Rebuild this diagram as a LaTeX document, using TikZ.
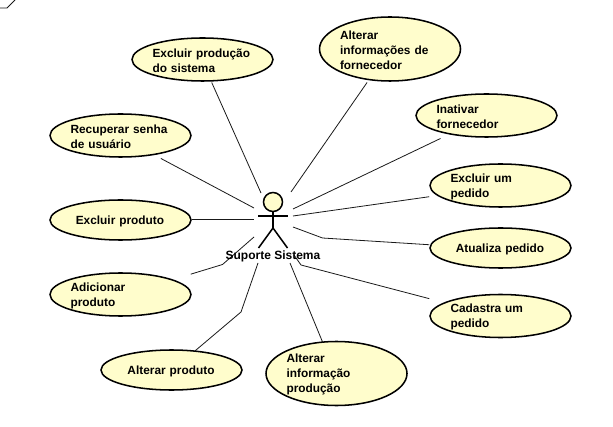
\documentclass[tikz,border=0pt]{standalone}
\usepackage{fontspec}
\setmainfont{Liberation Sans}
\usetikzlibrary{shapes.geometric}
\definecolor{ucfill}{HTML}{FFFDCC}
\newlength{\pxu}\setlength{\pxu}{0.75pt}
\tikzset{
  ucshape/.style={draw=black,line width=1.15pt,fill=ucfill,ellipse,inner sep=0pt,minimum width=141\pxu,minimum height=#1*\pxu},
  ucbox/.style={rectangle,inner sep=0pt,minimum width=141\pxu,minimum height=#1*\pxu,text width=99\pxu,font=\fontsize{8.9}{11.25}\selectfont\bfseries},
  conn/.style={draw=black!90,line width=0.6pt},
  stick/.style={draw=black,line width=1.15pt},
  actorname/.style={inner sep=0pt,font=\fontsize{9}{11.25}\selectfont\bfseries}
}
% name, cx, cy, height, alignment, text
\newcommand{\ucase}[6]{%
  \node[ucshape=#4] (#1-shape) at (#2,#3) {};
  \node[ucbox=#4,align=#5] (#1) at (#2-0.5,#3+1.2) {#6};
}
\begin{document}
\begin{tikzpicture}[x=0.75pt,y=-0.75pt]
\useasboundingbox (0,0) rectangle (613,427);
% connector ends at the actor
\coordinate (pa) at (261,193);
\coordinate (pb) at (254,208);
\coordinate (pc) at (254,219);
\coordinate (pd) at (254,237);
\coordinate (pe) at (258,263);
\coordinate (pf) at (290,263);
\coordinate (pg) at (291,192);
\coordinate (ph) at (293,209);
\coordinate (pi) at (293,216);
\coordinate (pj) at (293,227);
\coordinate (pk) at (294,255);
% bends
\coordinate (qd) at (222.5,264.5);
\coordinate (qe) at (241,312);
\coordinate (qj) at (322.5,238);
\coordinate (qk) at (301,265);
% corner fragment
\coordinate (fa) at (0,8);
\coordinate (fb) at (7,8);
\coordinate (fc) at (15,0);
\draw[conn] (fa) -- (fb) -- (fc);

\ucase{a}{202.5}{59.5}{43}{left}{Excluir produção\\do sistema}
\ucase{b}{120.5}{135.5}{43}{left}{Recuperar senha\\de usuário}
\ucase{c}{120.5}{220}{40}{center}{Excluir produto}
\ucase{d}{120.5}{294.5}{43}{left}{Adicionar\\produto}
\ucase{e}{171.5}{370}{40}{center}{Alterar produto}
\ucase{f}{336.5}{373.5}{64}{left}{Alterar\\informação\\produção}
\ucase{g}{390}{49}{64}{left}{Alterar\\informações de\\fornecedor}
\ucase{h}{486.5}{115.5}{43}{left}{Inativar\\fornecedor}
\ucase{i}{500.5}{185.5}{43}{left}{Excluir um\\pedido}
\ucase{j}{500.5}{248}{40}{center}{Atualiza pedido}
\ucase{k}{500.5}{316}{43}{left}{Cadastra um\\pedido}

\draw[conn] (a) -- (pa);
\draw[conn] (b) -- (pb);
\draw[conn] (c-shape.east |- pc) -- (pc);
\draw[conn] (d) -- (qd) -- (pd);
\draw[conn] (e) -- (qe) -- (pe);
\draw[conn] (f) -- (pf);
\draw[conn] (g) -- (pg);
\draw[conn] (h) -- (ph);
\draw[conn] (i) -- (pi);
\draw[conn] (j) -- (qj) -- (pj);
\draw[conn] (k) -- (qk) -- (pk);

% actor
\node[circle,draw=black,line width=1.15pt,fill=ucfill,minimum size=19\pxu,inner sep=0pt] (head) at (273,202) {};
\coordinate (hip) at (273,228);
\coordinate (larm) at (258,216);
\coordinate (rarm) at (288,216);
\coordinate (lleg) at (258.5,248);
\coordinate (rleg) at (287.5,248);
\draw[stick] (head) -- (hip);
\draw[stick] (larm) -- (rarm);
\draw[stick] (lleg) -- (hip) -- (rleg);
\node[actorname] (actor) at (273,256) {Suporte Sistema};
\end{tikzpicture}
\end{document}
